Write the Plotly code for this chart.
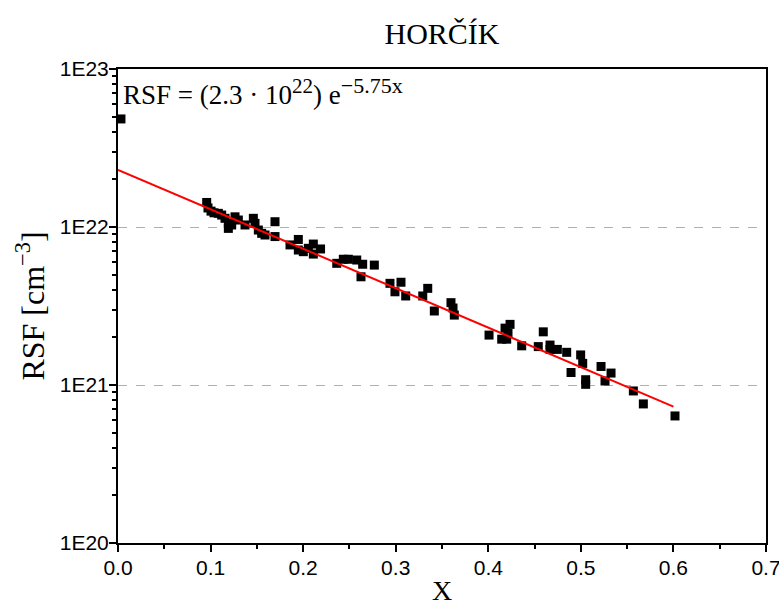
import numpy as np
import plotly.graph_objects as go

# Data
x_data = [0.0032, 0.0958, 0.0972, 0.1005, 0.1037, 0.1084, 0.1120, 0.1156, 0.1192, 0.1192,
          0.1228, 0.1264, 0.1300, 0.1372, 0.1462, 0.1480, 0.1516, 0.1552, 0.1588, 0.1696,
          0.1696, 0.1858, 0.1948, 0.1948, 0.2002, 0.2056, 0.2110, 0.2110, 0.2188, 0.2363,
          0.2434, 0.2488, 0.2579, 0.2643, 0.2625, 0.2769, 0.2938, 0.2992, 0.3057, 0.3108,
          0.3292, 0.3346, 0.3417, 0.3597, 0.3633, 0.3619, 0.4008, 0.4145, 0.4181, 0.4235,
          0.4199, 0.4213, 0.4361, 0.4540, 0.4594, 0.4667, 0.4667, 0.4746, 0.4847, 0.4894,
          0.4998, 0.5020, 0.5052, 0.5052, 0.5218, 0.5261, 0.5326, 0.5567, 0.5675, 0.6017]
rsf_data = [4.83e22, 1.43e22, 1.32e22, 1.26e22, 1.23e22, 1.22e22, 1.19e22, 1.135e22, 1.055e22, 9.8e21,
            1.03e22, 1.16e22, 1.107e22, 1.03e22, 1.135e22, 1.055e22, 9.57e21, 9.12e21, 8.9e21, 1.08e22,
            8.7e21, 7.7e21, 8.34e21, 7.15e21, 6.98e21, 7.33e21, 7.8e21, 6.74e21, 7.26e21, 5.89e21,
            6.25e21, 6.25e21, 6.18e21, 5.81e21, 4.84e21, 5.74e21, 4.40e21, 3.89e21, 4.47e21, 3.66e21,
            3.66e21, 4.09e21, 2.94e21, 3.32e21, 2.77e21, 3.07e21, 2.07e21, 1.95e21, 2.29e21, 2.42e21,
            1.95e21, 2.13e21, 1.77e21, 1.75e21, 2.17e21, 1.79e21, 1.68e21, 1.68e21, 1.61e21, 1.20e21,
            1.55e21, 1.37e21, 1.08e21, 1.01e21, 1.31e21, 1.06e21, 1.19e21, 9.17e20, 7.59e20, 6.37e20]

fit_A = 2.3e22
fit_k = 5.75
fit_x = [0.0, 0.6]

x_tick_vals = [0.0, 0.1, 0.2, 0.3, 0.4, 0.5, 0.6, 0.7]
x_tick_text = ["0.0", "0.1", "0.2", "0.3", "0.4", "0.5", "0.6", "0.7"]
x_minor_vals = [0.05, 0.15, 0.25, 0.35, 0.45, 0.55, 0.65]
y_tick_vals = [1e20, 1e21, 1e22, 1e23]
y_tick_text = ["1E20", "1E21", "1E22", "1E23"]
y_minor_mult = [2, 3, 4, 5, 6, 7, 8, 9]

y_minor_vals = [m * d for d in y_tick_vals[:-1] for m in y_minor_mult]

fx = np.linspace(fit_x[0], fit_x[1], 50)
fy = fit_A * np.exp(-fit_k * fx)

serif = "Liberation Serif, DejaVu Serif, serif"
sans = "Liberation Sans, Arial, sans-serif"

fig = go.Figure()
fig.add_trace(go.Scatter(x=x_data, y=rsf_data, mode="markers",
                         marker=dict(symbol="square", size=9, color="black",
                                     line=dict(width=0)),
                         showlegend=False, cliponaxis=False))
fig.add_trace(go.Scatter(x=fx, y=fy, mode="lines",
                         line=dict(color="red", width=2), showlegend=False))

fig.update_layout(
    width=779, height=606,
    margin=dict(l=118, r=13, t=69, b=63, autoexpand=False),
    plot_bgcolor="white", paper_bgcolor="white",
    title=dict(text="HORČÍK", x=0.5, xref="paper", xanchor="center",
               y=0.945, yref="container", yanchor="middle",
               font=dict(family=serif, size=30, color="black"), automargin=False),
    xaxis=dict(range=[0, 0.7], tickvals=x_tick_vals, ticktext=x_tick_text,
               ticks="outside", ticklen=7, tickwidth=2, tickcolor="black",
               showline=True, linecolor="black", linewidth=2, mirror=True,
               showgrid=False, zeroline=False, automargin=False,
               ticklabelstandoff=-2, ticklabeloverflow="allow",
               tickfont=dict(family=sans, size=21, color="black"),
               minor=dict(tickvals=x_minor_vals,
                          ticks="outside", ticklen=4, tickwidth=2, tickcolor="black"),
               title=dict(text="X", standoff=4, font=dict(family=serif, size=28, color="black"))),
    yaxis=dict(type="log", range=[20, 23], tickvals=y_tick_vals, ticktext=y_tick_text,
               ticks="outside", ticklen=7, tickwidth=2, tickcolor="black",
               showline=True, linecolor="black", linewidth=2, mirror=True,
               showgrid=True, gridcolor="#b0b0b0", griddash="dash", gridwidth=1,
               zeroline=False, automargin=False,
               ticklabelstandoff=-4, ticklabeloverflow="allow",
               tickfont=dict(family=sans, size=21, color="black"),
               minor=dict(tickvals=y_minor_vals, ticks="outside", ticklen=4, tickwidth=2,
                          tickcolor="black", showgrid=False),
               title=dict(text="RSF [cm<sup>−3</sup>]", standoff=6,
                          font=dict(family=serif, size=32, color="black"))),
    annotations=[dict(text="RSF = (2.3 · 10<sup><span style='font-size:21px'>22</span></sup>) "
                           "e<sup><span style='font-size:22px'>−5.75x</span></sup>",
                      xref="paper", yref="paper", x=0.005, y=0.995,
                      xanchor="left", yanchor="top", showarrow=False,
                      font=dict(family=serif, size=27, color="black"))],
)

fig.write_html("out.html")
